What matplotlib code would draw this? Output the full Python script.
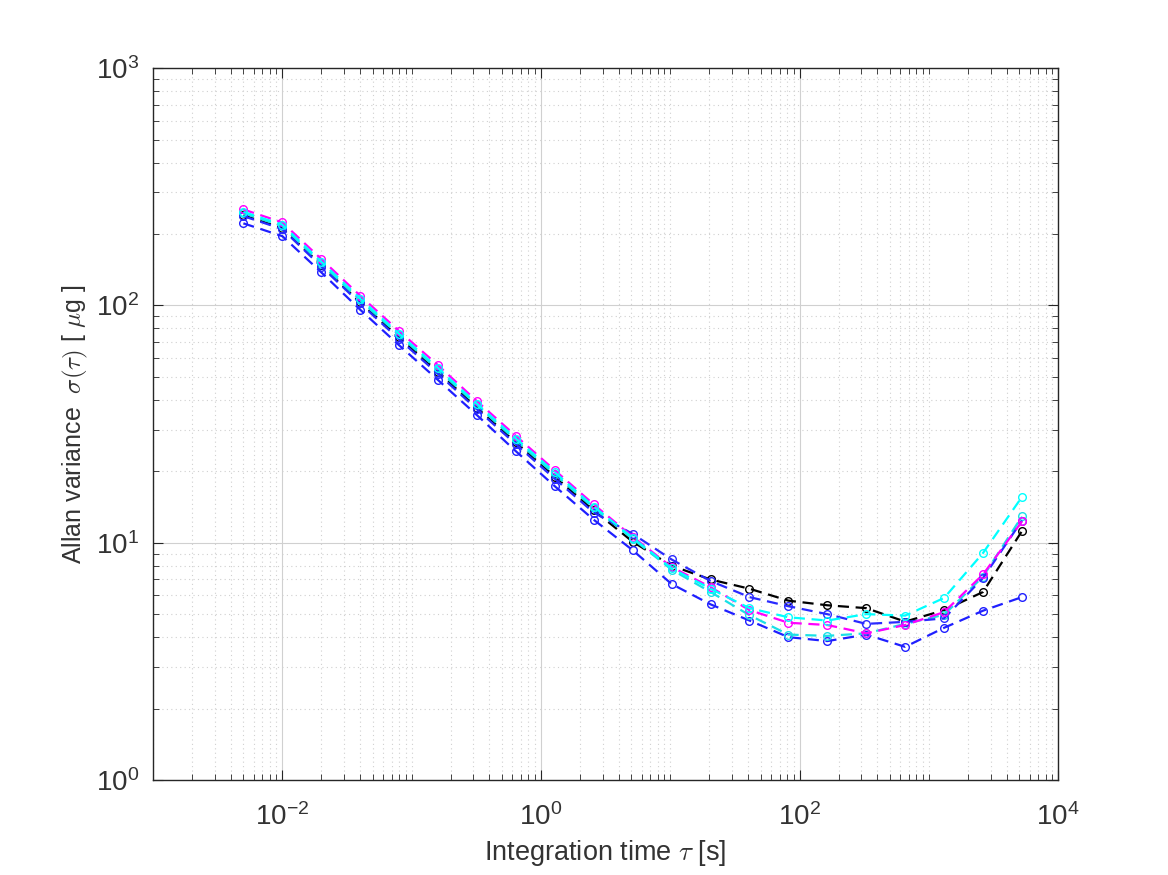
import numpy as np
import matplotlib
matplotlib.use("Agg")
import matplotlib.pyplot as plt
from matplotlib.ticker import FixedLocator, LogFormatterSciNotation, NullFormatter

plt.rcParams['font.family'] = ['Liberation Sans', 'DejaVu Sans']
plt.rcParams['mathtext.fontset'] = 'cm'

# integration times (s)
tau = [0.005, 0.01, 0.02, 0.04, 0.08, 0.16, 0.32, 0.64, 1.28, 2.56, 5.12,
       10.24, 20.48, 40.96, 81.92, 163.84, 327.68, 655.36, 1310.72, 2621.44, 5242.88]

adev_black = [240, 212, 148, 103, 73.5, 52.5, 37, 26.5, 19.0, 13.7, 10.1,
              8.0, 7.0, 6.4, 5.7, 5.45, 5.3, 4.65, 5.2, 6.2, 11.2]
adev_magenta = [254, 224, 157, 110, 78, 56, 39.5, 28.2, 20.2, 14.5, 10.6,
                7.9, 6.5, 5.2, 4.6, 4.5, 4.15, 4.5, 5.1, 7.35, 12.3]
adev_cyan1 = [248, 219, 153, 107, 76, 54.5, 38.5, 27.5, 19.8, 14.2, 10.5,
              7.8, 6.4, 5.3, 4.85, 4.7, 5.0, 4.93, 5.85, 9.05, 15.6]
adev_cyan2 = [245, 216, 150, 105, 75, 53.5, 38, 27, 19.4, 14.0, 10.4,
              7.7, 6.2, 4.95, 4.1, 4.05, 4.15, 4.55, 4.97, 7.2, 12.9]
adev_blueA = [238, 210, 146, 102, 72, 51.5, 36.5, 26, 18.6, 13.4, 10.9,
              8.5, 6.9, 5.9, 5.4, 5.0, 4.55, 4.64, 4.8, 7.1, 12.4]
adev_blueB = [222, 196, 138, 96, 68, 48.5, 34.5, 24.3, 17.3, 12.5, 9.3,
              6.7, 5.5, 4.7, 4.0, 3.85, 4.1, 3.64, 4.38, 5.17, 5.9]

x_major = [1e-2, 1e0, 1e2, 1e4]
y_major = [1e0, 1e1, 1e2, 1e3]

series = [
    (adev_black, '#000000'),
    (adev_blueB, '#1f1fff'),
    (adev_cyan2, '#19e0e6'),
    (adev_blueA, '#2a2aff'),
    (adev_magenta, '#ff00ff'),
    (adev_cyan1, '#00ffff'),
]

fig = plt.figure(figsize=(11.68, 8.75), dpi=100)
ax = fig.add_axes([0.131, 0.1086, 0.775, 0.8134])

for vals, col in series:
    ax.loglog(tau, vals, linestyle=(0, (5, 3)), color=col, linewidth=1.6,
              marker='o', markersize=5.5, markerfacecolor='none',
              markeredgecolor=col, markeredgewidth=1.0)

ax.set_xlim(1e-3, 1e4)
ax.set_ylim(1, 1e3)

x_minor = [m * 10.0 ** e for e in range(-3, 4) for m in range(1, 10) if not (m == 1 and 10.0 ** e in x_major)]
y_minor = [m * 10.0 ** e for e in range(0, 3) for m in range(2, 10)]

ax.xaxis.set_major_locator(FixedLocator(x_major))
ax.xaxis.set_major_formatter(LogFormatterSciNotation(base=10))
ax.xaxis.set_minor_locator(FixedLocator(x_minor))
ax.xaxis.set_minor_formatter(NullFormatter())
ax.yaxis.set_major_locator(FixedLocator(y_major))
ax.yaxis.set_major_formatter(LogFormatterSciNotation(base=10))
ax.yaxis.set_minor_locator(FixedLocator(y_minor))
ax.yaxis.set_minor_formatter(NullFormatter())

ax.grid(True, which='major', color='#d0d0d0', linewidth=0.8, linestyle='-')
ax.grid(True, which='minor', color='#d0d0d0', linewidth=0.8, linestyle=(0, (1, 3)))
ax.set_axisbelow(True)

edge = '#262626'
for s in ax.spines.values():
    s.set_color(edge)
    s.set_linewidth(1.0)
ax.tick_params(which='both', direction='in', top=True, right=True, colors=edge,
               labelcolor='#333333')
ax.tick_params(which='major', length=7, labelsize=20)
ax.tick_params(axis='x', which='major', pad=17)
ax.tick_params(axis='y', which='major', pad=10)
ax.tick_params(which='minor', length=4)

ax.set_xlabel(r'Integration time $\tau$ [s]', fontsize=19.5, color='#333333', labelpad=5)
ax.set_ylabel(r'Allan variance  $\sigma(\tau)$ [ $\mu$g ]', fontsize=18, color='#333333', labelpad=4)

fig.savefig('out.png', dpi=100)
